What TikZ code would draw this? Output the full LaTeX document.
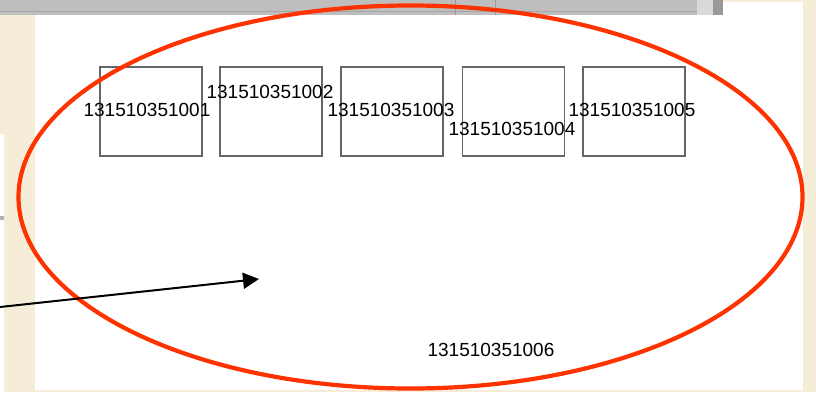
\documentclass[tikz,border=0pt]{standalone}
\usepackage{fontspec}
\setmainfont{Liberation Sans}
\usetikzlibrary{shapes.geometric,arrows.meta}
\definecolor{paper}{HTML}{F5EDD8}
\definecolor{strip}{HTML}{BEBEBE}
\definecolor{ring}{HTML}{FF3300}
\begin{document}
\begin{tikzpicture}[x=1pt,y=-1pt,
  cell/.style={draw=black!60,line width=1.3pt,minimum width=102pt,minimum height=89pt,inner sep=0pt},
  code/.style={inner sep=0pt,text=black,font=\fontsize{19}{20}\selectfont}]
\useasboundingbox (0,0) rectangle (816,392);
\fill[paper] (0,0) rectangle (816,392);
\fill[white] (35,15) rectangle (803,390);
\fill[white] (723,2) rectangle (803,15);
\fill[white] (0,134) rectangle (4,392);
\fill[black!30] (0,216) rectangle (4,220);
\fill[strip] (0,0) rectangle (723,15);
\fill[black!15] (697,0) rectangle (713,15);
\fill[black!40] (713,0) rectangle (723,15);
\draw[black!35] (0,11) -- (697,11);
\draw[black!40] (455,0) -- (455,15);
\draw[black!40] (495,0) -- (495,15);
\node[cell] (box1) at (151,111.5) {};
\node[cell] (box2) at (271,111.5) {};
\node[cell] (box3) at (392,111.5) {};
\node[cell] (box4) at (513.5,111.5) {};
\node[cell] (box5) at (634,111.5) {};
\node[code] (lab1) at (147,110) {131510351001};
\node[code] (lab2) at (270,92) {131510351002};
\node[code] (lab3) at (391,110) {131510351003};
\node[code] (lab4) at (512,129) {131510351004};
\node[code] (lab5) at (632,110) {131510351005};
\node[code] (lab6) at (491,350) {131510351006};
\node[ellipse,draw=ring,line width=4.2pt,minimum width=784pt,minimum height=383pt,inner sep=0pt] (zone) at (410.5,197) {};
\coordinate (tail) at (0,307);
\coordinate (tip) at (259,279);
\draw[line width=2pt,-{Triangle[length=16pt,width=16pt]}] (tail) -- (tip);
\end{tikzpicture}
\end{document}
